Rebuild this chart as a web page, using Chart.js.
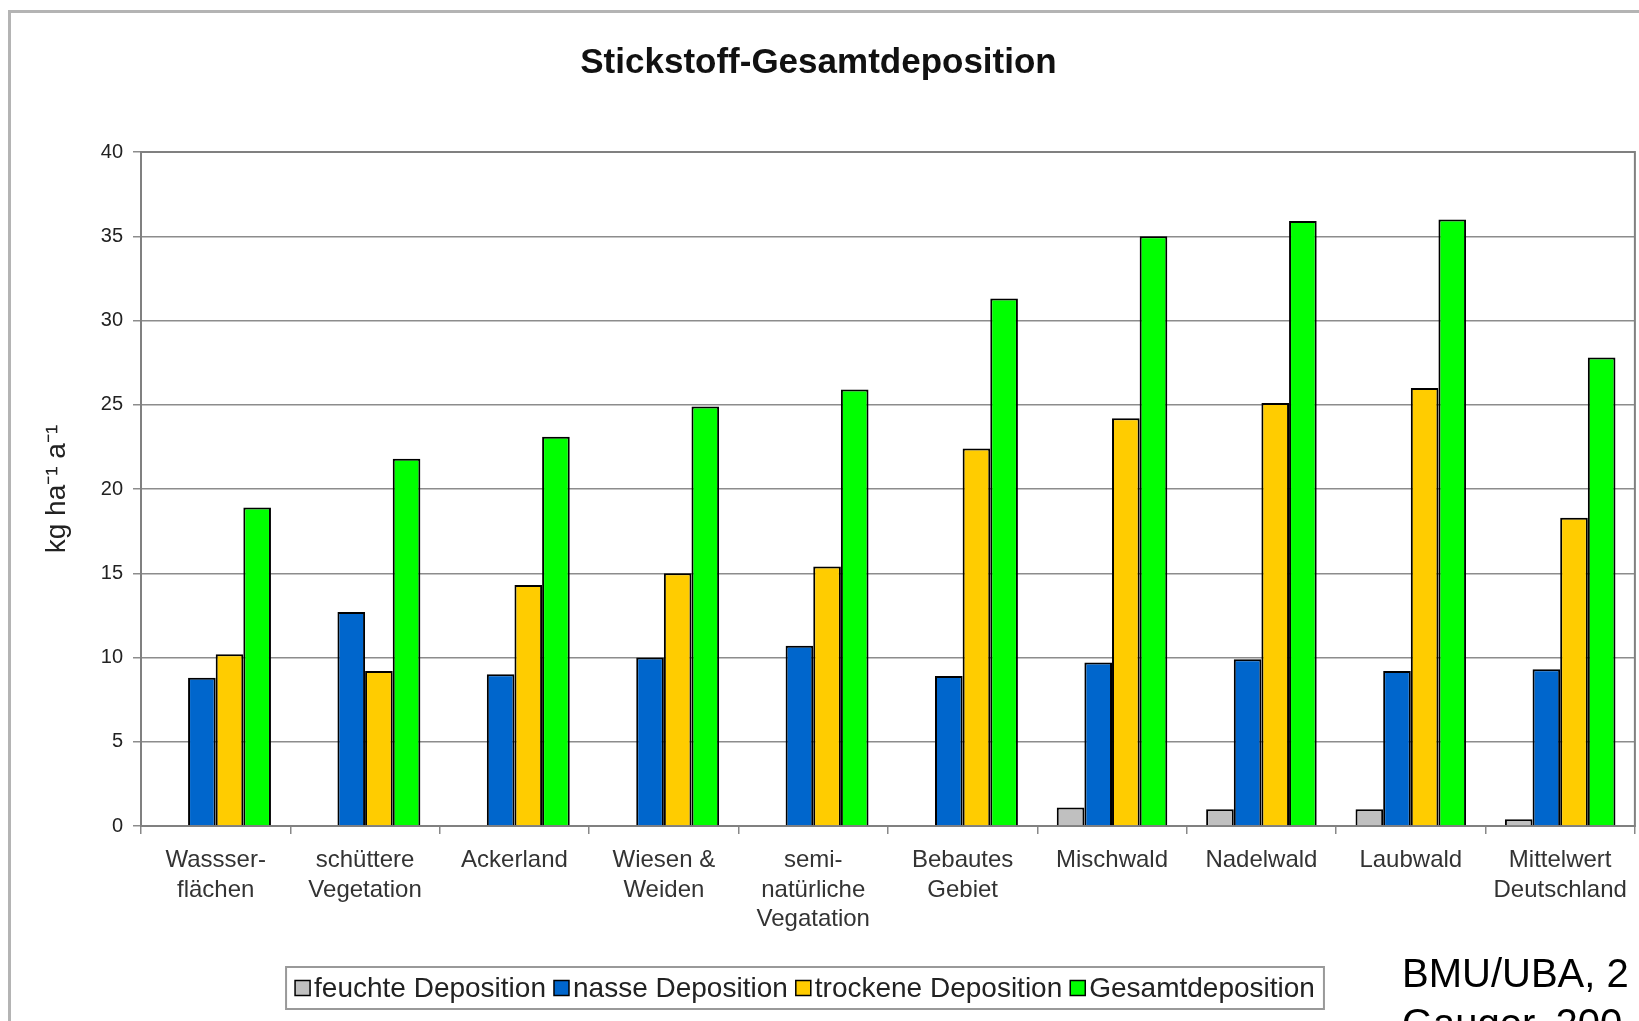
<!DOCTYPE html>
<html lang="de">
<head>
<meta charset="utf-8">
<title>Stickstoff-Gesamtdeposition</title>
<script src="https://cdn.jsdelivr.net/npm/chart.js@4.4.1/dist/chart.umd.min.js"></script>
<style>
  html, body { margin: 0; padding: 0; background: #fff; }
  #wrap { width: 1639px; height: 1021px; overflow: hidden; }
</style>
</head>
<body>
<div id="wrap"><canvas id="depChart" width="1639" height="1021"></canvas></div>
<script>
// Kategorien (Landnutzung)
const categories = [
  ["Wassser-", "flächen"],
  ["schüttere", "Vegetation"],
  "Ackerland",
  ["Wiesen &", "Weiden"],
  ["semi-", "natürliche", "Vegatation"],
  ["Bebautes", "Gebiet"],
  "Mischwald",
  "Nadelwald",
  "Laubwald",
  ["Mittelwert", "Deutschland"]
];

// Werte in kg ha-1 a-1
const feuchte  = [null, null, null, null, null, null, 1.1, 1.0, 1.0, 0.4];
const nasse    = [8.8, 12.7, 9.0, 10.0, 10.7, 8.9, 9.7, 9.9, 9.2, 9.3];
const trockene = [10.2, 9.2, 14.3, 15.0, 15.4, 22.4, 24.2, 25.1, 26.0, 18.3];
const gesamt   = [18.9, 21.8, 23.1, 24.9, 25.9, 31.3, 35.0, 35.9, 36.0, 27.8];

const seriesNames  = ["feuchte Deposition", "nasse Deposition", "trockene Deposition", "Gesamtdeposition"];
const seriesColors = ["#c0c0c0", "#0066cc", "#ffcc00", "#00ff00"];

const yMin = 0, yMax = 40, yStep = 5;
const yLabel = "kg ha\u207B\u00B9 a\u207B\u00B9";
const sourceLines = ["BMU/UBA, 2", "Gauger, 200"];

const FONT = '"Liberation Sans", Arial, Helvetica, sans-serif';
Chart.defaults.font.family = FONT;

// Rahmen um die ganze Grafik
const framePlugin = {
  id: "frame",
  beforeDraw(chart) {
    const ctx = chart.ctx;
    ctx.save();
    ctx.fillStyle = "#fff";
    ctx.fillRect(0, 0, chart.width, chart.height);
    ctx.strokeStyle = "#b4b4b4";
    ctx.lineWidth = 3;
    ctx.strokeRect(9.5, 11.5, chart.width + 50, chart.height + 50);
    ctx.restore();
  },
  beforeDatasetsDraw(chart) {
    const a = chart.chartArea;
    const ctx = chart.ctx;
    ctx.save();
    ctx.strokeStyle = "#808080";
    ctx.lineWidth = 2;
    ctx.strokeRect(a.left, a.top, a.right - a.left, a.bottom - a.top);
    ctx.restore();
  }
};

// Legende im Kasten + Quellenangabe
const legendPlugin = {
  id: "boxLegend",
  afterDraw(chart) {
    const ctx = chart.ctx;
    const ds = chart.data.datasets;
    ctx.save();
    ctx.font = "28px " + FONT;
    ctx.textBaseline = "middle";
    const sw = 15, gapSw = 4, gapItem = 8;
    const widths = ds.map(d => ctx.measureText(d.label).width);
    const total = widths.reduce((s, w) => s + sw + gapSw + w, 0) + gapItem * (ds.length - 1);
    const cx = 805, cy = 988;
    let x = cx - total / 2;
    ctx.strokeStyle = "#999";
    ctx.lineWidth = 2;
    ctx.strokeRect(x - 9, 967, total + 18, 42);
    ds.forEach((d, i) => {
      ctx.fillStyle = d.backgroundColor;
      ctx.fillRect(x, cy - sw / 2, sw, sw);
      ctx.strokeStyle = "#000";
      ctx.lineWidth = 1.5;
      ctx.strokeRect(x, cy - sw / 2, sw, sw);
      ctx.fillStyle = "#222";
      ctx.fillText(d.label, x + sw + gapSw, cy + 1);
      x += sw + gapSw + widths[i] + gapItem;
    });

    ctx.font = "40px " + FONT;
    ctx.fillStyle = "#000";
    ctx.textBaseline = "alphabetic";
    ctx.fillText(sourceLines[0], 1402, 987);
    ctx.fillText(sourceLines[1], 1402, 1037);
    ctx.restore();
  }
};

const seriesData = [feuchte, nasse, trockene, gesamt];

new Chart(document.getElementById("depChart"), {
  type: "bar",
  data: {
    labels: categories,
    datasets: seriesNames.map((name, i) => ({
      label: name,
      data: seriesData[i],
      backgroundColor: seriesColors[i],
      borderColor: "#000",
      borderWidth: 2,
      categoryPercentage: 0.74,
      barPercentage: 1.0
    }))
  },
  options: {
    responsive: false,
    animation: false,
    layout: { padding: { top: 0, right: 2, bottom: 0, left: 0 } },
    plugins: {
      legend: { display: false },
      tooltip: { enabled: false },
      title: {
        display: true,
        text: "Stickstoff-Gesamtdeposition",
        color: "#111",
        font: { size: 35, weight: "bold", lineHeight: 1.2 },
        padding: { top: 42, bottom: 68 }
      }
    },
    scales: {
      x: {
        afterFit: s => { s.height = 195; },
        grid: { display: true, drawOnChartArea: false, drawTicks: true, tickLength: 8, color: "#888", lineWidth: 1.5 },
        border: { color: "#888", width: 2 },
        ticks: { color: "#333", font: { size: 24, lineHeight: 1.22 }, padding: 12, maxRotation: 0, autoSkip: false }
      },
      y: {
        min: yMin,
        max: yMax,
        afterFit: s => { s.width = 141; },
        ticks: { stepSize: yStep, color: "#222", font: { size: 20 }, padding: 10 },
        grid: { color: "#8c8c8c", lineWidth: 1.5, tickLength: 8 },
        border: { color: "#777", width: 2 },
        title: { display: true, text: yLabel, color: "#222", font: { size: 28 }, padding: { top: 40, bottom: 0 } }
      }
    }
  },
  plugins: [framePlugin, legendPlugin]
});
</script>
</body>
</html>
